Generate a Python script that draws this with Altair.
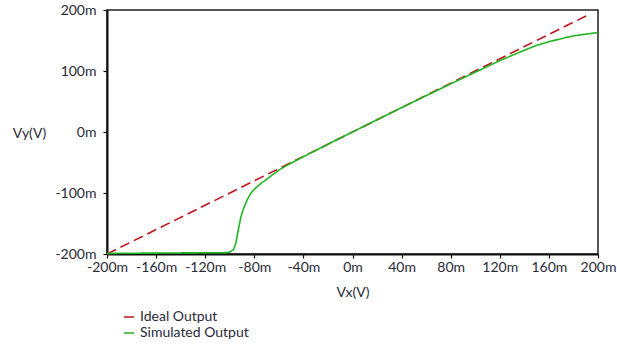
import altair as alt
import pandas as pd

ideal_x = [-200, 192]
ideal_y = [-200, 192]

sim_x = [-200, -160, -120, -104, -100, -97, -95, -93, -91, -89, -86, -83, -80, -75, -70,
         -65, -60, -55, -50, -40, -20, 0, 20, 40, 60, 80, 100, 120, 140, 150, 160, 170, 180, 190, 200]
sim_y = [-199, -198.5, -198, -198, -197, -193, -182, -160, -140, -127, -112, -101, -94, -85, -77.5,
         -70, -62.5, -56.5, -51, -40.5, -20, 0, 20, 40, 59.5, 79, 98, 117, 134, 142, 148, 153, 157.5, 160.5, 163]

series_names = ["Ideal Output", "Simulated Output"]
x_ticks = [-200, -160, -120, -80, -40, 0, 40, 80, 120, 160, 200]
y_ticks = [-200, -100, 0, 100, 200]

rows = []
for i, (a, b) in enumerate(zip(ideal_x, ideal_y)):
    rows.append({"x": a, "y": b, "s": series_names[0], "o": i})
for i, (a, b) in enumerate(zip(sim_x, sim_y)):
    rows.append({"x": a, "y": b, "s": series_names[1], "o": i})
df = pd.DataFrame(rows)

font = "Lato"
txt = "#2a2a38"

chart = alt.Chart(df).mark_line(strokeWidth=1.6).encode(
    x=alt.X("x:Q", scale=alt.Scale(domain=[-200, 200], nice=False, zero=False),
            axis=alt.Axis(values=x_ticks, labelExpr="datum.value + 'm'", title="Vx(V)",
                          labelOverlap=False, labelFlush=False,
                          titleY=38, titleBaseline="middle", titleFontWeight="normal")),
    y=alt.Y("y:Q", scale=alt.Scale(domain=[-200, 200], nice=False, zero=False),
            axis=alt.Axis(values=y_ticks, labelExpr="datum.value + 'm'", title="Vy(V)",
                          labelOverlap=False, labelFlush=False,
                          titleAngle=0, titleX=-78, titleY=123, titleAlign="center",
                          titleBaseline="middle", titleFontWeight="normal")),
    color=alt.Color("s:N", scale=alt.Scale(domain=series_names, range=["#c0141c", "#22b522"]),
                    legend=alt.Legend(title=None, orient="none", legendX=15, legendY=300,
                                      symbolType="stroke", symbolStrokeColor="black", symbolDash=[8, 10],
                                      labelFont=font, labelFontSize=14, labelColor=txt)),
    strokeDash=alt.StrokeDash("s:N", scale=alt.Scale(domain=series_names, range=[[10, 5], [1, 0]])),
    order="o:Q",
).properties(
    width=491, height=244,
    autosize=alt.AutoSizeParams(type="none"),
    padding={"left": 107, "top": 10, "right": 19, "bottom": 102},
).configure_view(
    stroke="#222", strokeWidth=1.5
).configure_axis(
    grid=False, domainColor="#111", domainWidth=2, tickColor="#111", tickSize=4, tickWidth=1.2,
    labelFont=font, labelFontSize=14, labelColor=txt, titleFont=font, titleFontSize=14, titleColor=txt,
).configure_axisY(labelPadding=7).configure_axisX(labelPadding=2)

chart.save("out.html", embed_options={"renderer": "svg", "actions": False})
